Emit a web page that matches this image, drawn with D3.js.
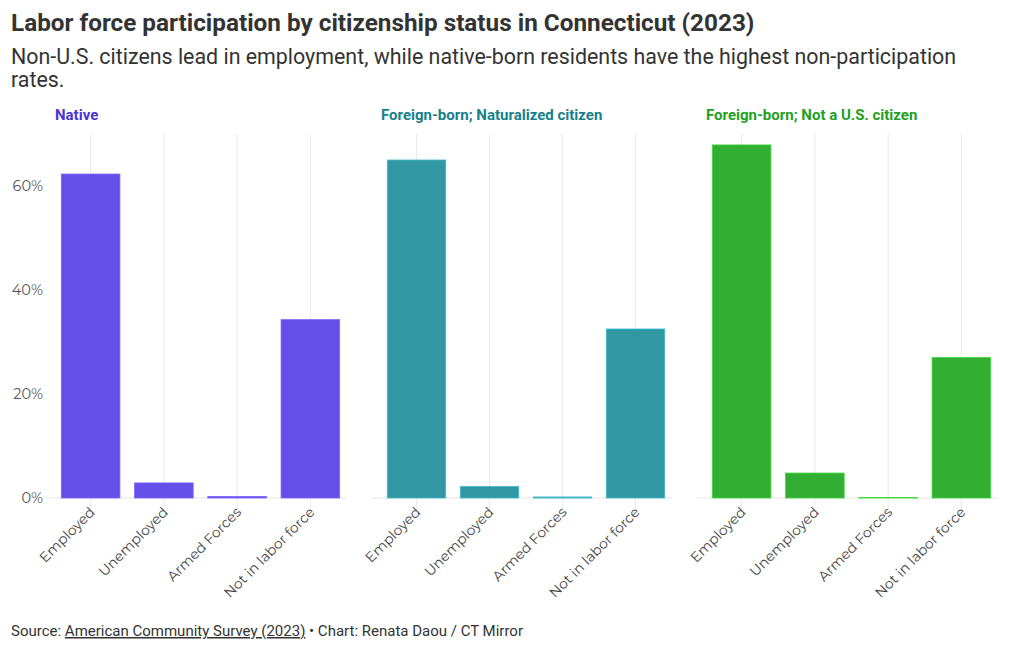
<!DOCTYPE html>
<html><head><meta charset="utf-8">
<script src="https://cdn.jsdelivr.net/npm/d3@7"></script>
<style>
body{margin:0;background:#fff;}
svg{display:block;}
</style></head>
<body>
<svg id="chart" width="1020" height="650"></svg>
<script>
const categories = ["Employed", "Unemployed", "Armed Forces", "Not in labor force"];
const groups = ["Native", "Foreign-born; Naturalized citizen", "Foreign-born; Not a U.S. citizen"];
const nativeValues = [62.3, 2.9, 0.3, 34.3];
const naturalizedValues = [65.0, 2.2, 0.2, 32.5];
const nonCitizenValues = [67.9, 4.8, 0.1, 27.0];
const yTicks = [0, 20, 40, 60];
const barColors = ["#6450e9", "#3097a3", "#32ae32"];
const titleColors = ["#4b33d1", "#17808c", "#1f9f1f"];

const seriesValues = [nativeValues, naturalizedValues, nonCitizenValues];
const svg = d3.select("#chart");
const font = "'Source Sans Pro','Roboto','Noto Sans',sans-serif";
const axisFont = "'Montserrat','Open Sans','Noto Sans',sans-serif";

svg.append("text").attr("x", 11).attr("y", 31)
  .style("font-family", font).style("font-weight", 700).style("font-size", "24.3px").attr("fill", "#333")
  .text("Labor force participation by citizenship status in Connecticut (2023)");
svg.append("text").attr("x", 11).attr("y", 64)
  .style("font-family", font).style("font-size", "21.4px").attr("fill", "#333")
  .text("Non-U.S. citizens lead in employment, while native-born residents have the highest non-participation");
svg.append("text").attr("x", 11).attr("y", 87)
  .style("font-family", font).style("font-size", "21.4px").attr("fill", "#333")
  .text("rates.");

const y = d3.scaleLinear().domain([0, 70]).range([498, 134]);
const panels = [[54, 347], [380, 672], [705, 998]];

panels.forEach((r, i) => {
  const x = d3.scaleBand().domain(categories).range(r).paddingInner(0.2).paddingOuter(0.1);
  const g = svg.append("g");
  g.selectAll("line.grid").data(categories).join("line")
    .attr("x1", d => x(d) + x.bandwidth() / 2).attr("x2", d => x(d) + x.bandwidth() / 2)
    .attr("y1", y(70)).attr("y2", 511)
    .attr("stroke", "#e9e9e9").attr("stroke-width", 1);
  g.append("line").attr("x1", r[0] - 8).attr("x2", r[1]).attr("y1", y(0)).attr("y2", y(0))
    .attr("stroke", "#e6e6e6");
  g.selectAll("rect").data(seriesValues[i]).join("rect")
    .attr("x", (d, j) => x(categories[j]))
    .attr("width", x.bandwidth())
    .attr("y", d => y(d))
    .attr("height", d => y(0) - y(d))
    .attr("fill", barColors[i])
    .attr("stroke", d3.color(barColors[i]).brighter(0.6))
    .attr("stroke-width", 0.8);
  g.selectAll("text.xl").data(categories).join("text")
    .attr("transform", d => `translate(${x(d) + x.bandwidth() / 2 + 5},${513}) rotate(-45)`)
    .attr("text-anchor", "end")
    .style("font-family", axisFont).style("font-size", "14px").attr("fill", "#444")
    .text(d => d);
  svg.append("text").attr("x", r[0] + 1).attr("y", 120)
    .style("font-family", font).style("font-weight", 700).style("font-size", "15px")
    .attr("fill", titleColors[i]).text(groups[i]);
  if (i === 0) {
    const ax = svg.append("g").attr("transform", `translate(${r[0] - 11},0)`)
      .call(d3.axisLeft(y).tickValues(yTicks).tickFormat(d => d + "%").tickSize(0).tickPadding(0));
    ax.select(".domain").remove();
    ax.selectAll("text").style("font-family", axisFont).style("font-size", "14.5px").attr("fill", "#555");
  }
});

const src = svg.append("text").attr("x", 11).attr("y", 636)
  .style("font-family", font).style("font-size", "15px").attr("fill", "#333");
src.append("tspan").text("Source: ");
src.append("tspan").style("text-decoration", "underline").text("American Community Survey (2023)");
src.append("tspan").text(" • Chart: Renata Daou / CT Mirror");
</script>
</body></html>
